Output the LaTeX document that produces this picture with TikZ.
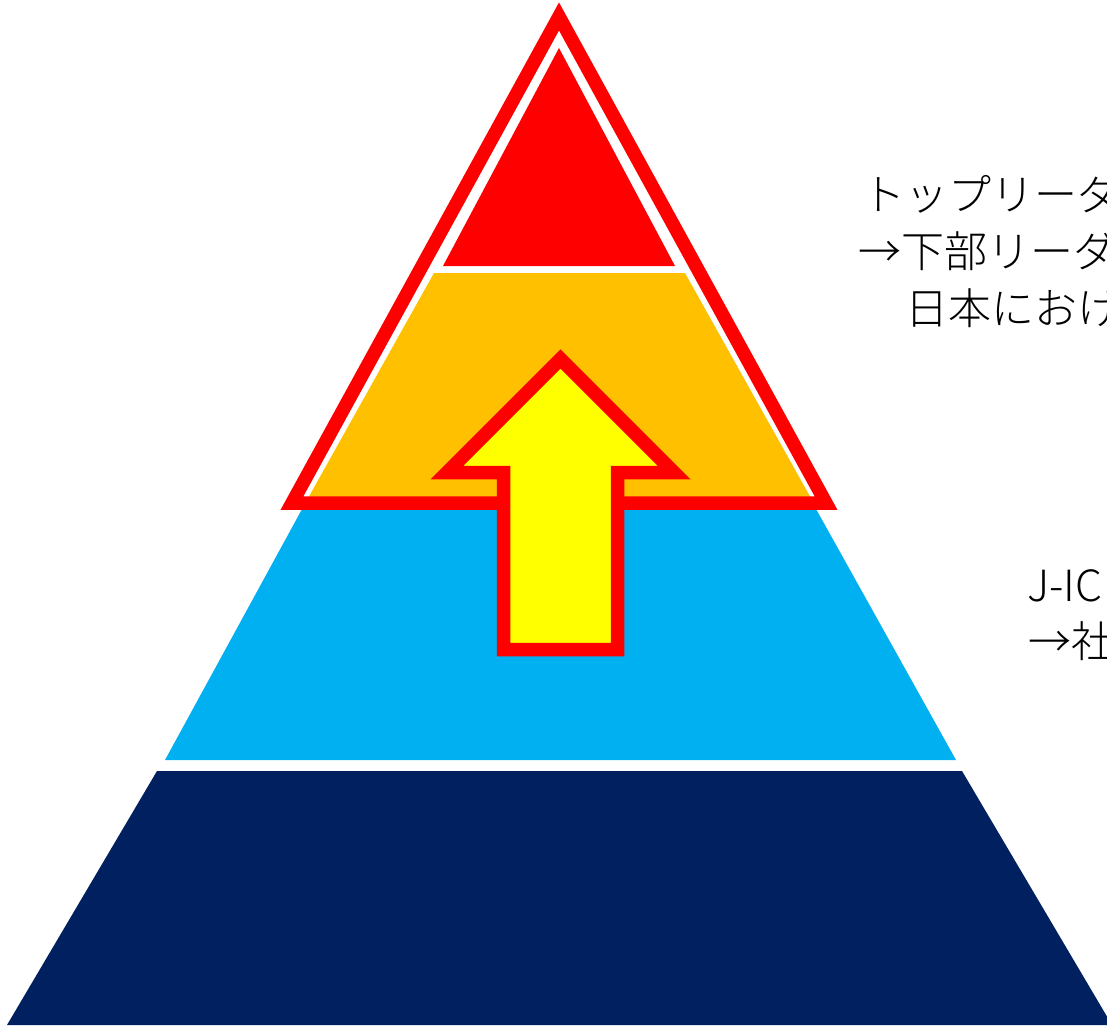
\documentclass[tikz,border=0pt]{standalone}
\usepackage{fontspec}
\newfontfamily\cjk{Noto Sans CJK JP}[UprightFont=* Light]
\definecolor{pred}{HTML}{FF0000}
\definecolor{porange}{HTML}{FFC000}
\definecolor{pblue}{HTML}{00B0F0}
\definecolor{pnavy}{HTML}{002060}
\definecolor{pyellow}{HTML}{FFFF00}
\tikzset{
  layer/.style={draw=none},
  outline/.style={draw=pred, line width=13.5pt, line join=miter},
  lbl/.style={anchor=base west, inner sep=0pt, font=\cjk\fontsize{43}{56}\selectfont, text=black}
}
\begin{document}
\begin{tikzpicture}[x=1pt,y=-1pt]
\useasboundingbox (0,0) rectangle (1107,1025);
\clip (0,0) rectangle (1107,1025);
% layers
\fill[pnavy] (157,771) -- (962,771) -- (1112,1025) -- (7,1025) -- cycle;
\fill[pblue] (307,500) -- (811,500) -- (956,760) -- (165,760) -- cycle;
\fill[porange] (434,273) -- (685,273) -- (812,500) -- (307,500) -- cycle;
\fill[pred] (559,48) -- (675,266) -- (443,266) -- cycle;
% outline of top part
\draw[outline] (559,16.5) -- (826,503) -- (292,503) -- cycle;
% arrow
\draw[outline, fill=pyellow] (503.5,649.5) -- (503.5,472.5) -- (447,472.5) -- (560.5,359) -- (674,472.5) -- (617.5,472.5) -- (617.5,649.5) -- cycle;
% labels
\node[lbl] (t1) at (862,210) {トップリーダ};
\node[lbl] (t2) at (858,267) {→下部リーダ};
\node[lbl] (t3) at (862,324) {　日本におけ};
\node[lbl] (t4) at (1027,601) {J-IC};
\node[lbl] (t5) at (1028,657) {→社};
\end{tikzpicture}
\end{document}
